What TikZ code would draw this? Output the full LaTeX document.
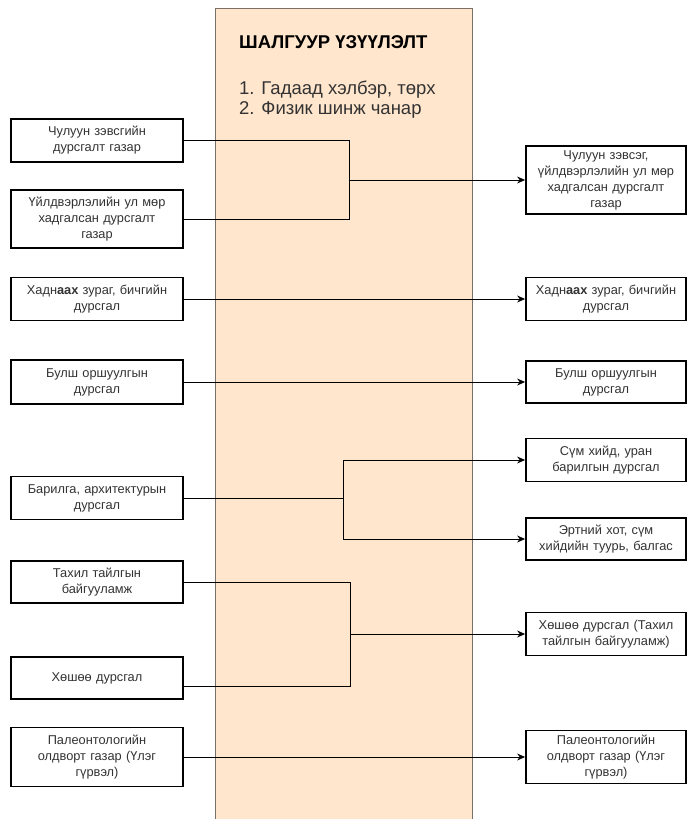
\documentclass[tikz,border=0pt]{standalone}
\usepackage{fontspec}
\setmainfont{Liberation Sans}
\usetikzlibrary{arrows.meta}
\usetikzlibrary{positioning}

\definecolor{panelfill}{HTML}{FFE6CC}
\definecolor{paneldraw}{HTML}{7A7066}
\definecolor{boxtext}{HTML}{333333}

\begin{document}
\begin{tikzpicture}[x=1pt, y=-1pt,
    leftbox/.style={draw, line width=1.8pt, fill=white, text=boxtext,
        font=\fontsize{12.8}{16}\selectfont, align=center,
        text width=164pt, inner sep=4pt, minimum height=43pt},
    rightbox/.style={leftbox, text width=152pt},
    link/.style={line width=0.8pt},
    >={Stealth[length=8pt, width=7pt]}
]
\useasboundingbox (0,0) rectangle (688,819);

% --- Criteria panel ---
\fill[panelfill] (215,8) rectangle (472,819);
\draw[paneldraw, line width=1pt] (215,819) -- (215,8) -- (472,8) -- (472,819);
\node[anchor=base west, inner sep=0pt, font=\fontsize{18.5}{20}\selectfont\bfseries]
    (title) at (239,48) {ШАЛГУУР ҮЗҮҮЛЭЛТ};
\node[anchor=base west, inner sep=0pt, align=left, text=boxtext,
    font=\fontsize{18.5}{20}\selectfont] (crit) at (239,114)
    {1. Гадаад хэлбэр, төрх\\2. Физик шинж чанар};

% --- Junction points ---
\coordinate (j1) at (349,180);
\coordinate (j2) at (343,498);
\coordinate (j3) at (350,634);

% --- Left column ---
\node[leftbox] (l1) at (97,140.5) {Чулуун зэвсгийн\\дурсгалт газар};
\node[leftbox, minimum height=58pt] (l2) at (97,219) {Үйлдвэрлэлийн ул мөр\\хадгалсан дурсгалт\\газар};
\node[leftbox] (l3) at (97,299) {Хадн\textbf{аах} зураг, бичгийн\\дурсгал};
\node[leftbox, minimum height=44pt] (l4) at (97,382) {Булш оршуулгын\\дурсгал};
\node[leftbox] (l5) at (97,498) {Барилга, архитектурын\\дурсгал};
\node[leftbox, minimum height=42pt] (l6) at (97,582) {Тахил тайлгын\\байгууламж};
\node[leftbox, minimum height=42pt] (l7) at (97,678) {Хөшөө дурсгал};
\node[leftbox, minimum height=59pt] (l8) at (97,757) {Палеонтологийн\\олдворт газар (Үлэг\\гүрвэл)};

% --- Right column ---
\node[rightbox, minimum height=64pt] (r1) at (606,180) {Чулуун зэвсэг,\\үйлдвэрлэлийн ул мөр\\хадгалсан дурсгалт\\газар};
\node[rightbox] (r2) at (606,299) {Хадн\textbf{аах} зураг, бичгийн\\дурсгал};
\node[rightbox, minimum height=42pt] (r3) at (606,382) {Булш оршуулгын\\дурсгал};
\node[rightbox] (r4) at (606,460) {Сүм хийд, уран\\барилгын дурсгал};
\node[rightbox, minimum height=42pt] (r5) at (606,539) {Эртний хот, сүм\\хийдийн туурь, балгас};
\node[rightbox] (r6) at (606,634) {Хөшөө дурсгал (Тахил\\тайлгын байгууламж)};
\node[rightbox, minimum height=53pt] (r7) at (606,757) {Палеонтологийн\\олдворт газар (Үлэг\\гүрвэл)};

% --- Merging links ---
\draw[link] (l1.east) -| (j1);
\draw[link] (l2.east) -| (j1);
\draw[link, ->] (j1) -- (r1.west);

\draw[link] (l6.east) -| (j3);
\draw[link] ([yshift=-8pt]l7.east) -| (j3);
\draw[link, ->] (j3) -- (r6.west);

% --- Splitting link ---
\draw[link] (l5.east) -- (j2);
\draw[link, ->] (j2) |- (r4.west);
\draw[link, ->] (j2) |- (r5.west);

% --- Straight links ---
\foreach \a/\b in {l3/r2, l4/r3, l8/r7}
    \draw[link, ->] (\a.east) -- (\b.west);

\end{tikzpicture}
\end{document}
